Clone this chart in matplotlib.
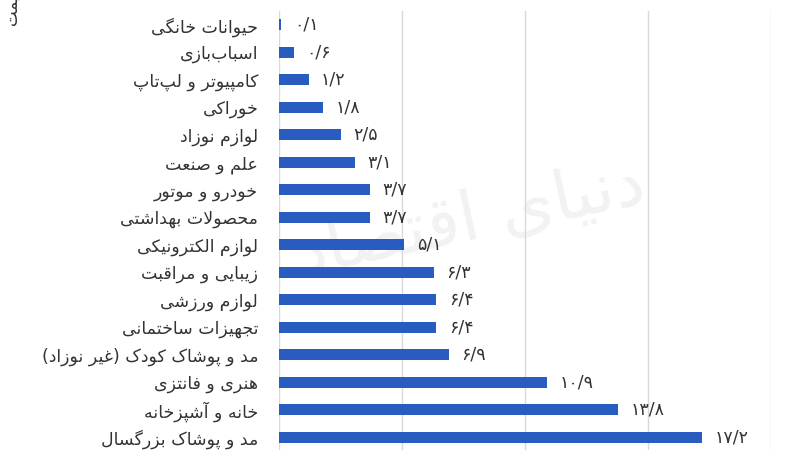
import matplotlib
matplotlib.use("Agg")
import matplotlib.pyplot as plt

categories = [
    "حیوانات خانگی",
    "اسباب\u200cبازی",
    "کامپیوتر و لپ\u200cتاپ",
    "خوراکی",
    "لوازم نوزاد",
    "علم و صنعت",
    "خودرو و موتور",
    "محصولات بهداشتی",
    "لوازم الکترونیکی",
    "زیبایی و مراقبت",
    "لوازم ورزشی",
    "تجهیزات ساختمانی",
    "مد و پوشاک کودک (غیر نوزاد)",
    "هنری و فانتزی",
    "خانه و آشپزخانه",
    "مد و پوشاک بزرگسال",
]
values = [0.1, 0.6, 1.2, 1.8, 2.5, 3.1, 3.7, 3.7, 5.1, 6.3, 6.4, 6.4, 6.9, 10.9, 13.8, 17.2]
xticks = [0, 5, 10, 15, 20]
ylabel_text = "قیمت"
watermark_text = "دنیای اقتصاد"

# ---- minimal Persian shaping (presentation forms) + visual reordering ----
FORMS = {
    '\u0627': ('\uFE8D', '\uFE8E', None, None),
    '\u0622': ('\uFE81', '\uFE82', None, None),
    '\u0628': ('\uFE8F', '\uFE90', '\uFE91', '\uFE92'),
    '\u067E': ('\uFB56', '\uFB57', '\uFB58', '\uFB59'),
    '\u062A': ('\uFE95', '\uFE96', '\uFE97', '\uFE98'),
    '\u062C': ('\uFE9D', '\uFE9E', '\uFE9F', '\uFEA0'),
    '\u062D': ('\uFEA1', '\uFEA2', '\uFEA3', '\uFEA4'),
    '\u062E': ('\uFEA5', '\uFEA6', '\uFEA7', '\uFEA8'),
    '\u062F': ('\uFEA9', '\uFEAA', None, None),
    '\u0631': ('\uFEAD', '\uFEAE', None, None),
    '\u0632': ('\uFEAF', '\uFEB0', None, None),
    '\u0698': ('\uFB8A', '\uFB8B', None, None),
    '\u0633': ('\uFEB1', '\uFEB2', '\uFEB3', '\uFEB4'),
    '\u0634': ('\uFEB5', '\uFEB6', '\uFEB7', '\uFEB8'),
    '\u0635': ('\uFEB9', '\uFEBA', '\uFEBB', '\uFEBC'),
    '\u0639': ('\uFEC9', '\uFECA', '\uFECB', '\uFECC'),
    '\u063A': ('\uFECD', '\uFECE', '\uFECF', '\uFED0'),
    '\u0641': ('\uFED1', '\uFED2', '\uFED3', '\uFED4'),
    '\u0642': ('\uFED5', '\uFED6', '\uFED7', '\uFED8'),
    '\u06A9': ('\uFB8E', '\uFB8F', '\uFB90', '\uFB91'),
    '\u06AF': ('\uFB92', '\uFB93', '\uFB94', '\uFB95'),
    '\u0644': ('\uFEDD', '\uFEDE', '\uFEDF', '\uFEE0'),
    '\u0645': ('\uFEE1', '\uFEE2', '\uFEE3', '\uFEE4'),
    '\u0646': ('\uFEE5', '\uFEE6', '\uFEE7', '\uFEE8'),
    '\u0647': ('\uFEE9', '\uFEEA', '\uFEEB', '\uFEEC'),
    '\u0648': ('\uFEED', '\uFEEE', None, None),
    '\u06CC': ('\uFBFC', '\uFBFD', '\uFBFE', '\uFBFF'),
}
LAM_ALEF = {'\u0627': ('\uFEFB', '\uFEFC'), '\u0622': ('\uFEF5', '\uFEF6')}
MIRROR = {'(': ')', ')': '('}


def dual(c):
    return c in FORMS and FORMS[c][2] is not None


def joins(c):
    return c in FORMS


def shape(text):
    chars = list(text)
    out = []
    i = 0
    n = len(chars)
    while i < n:
        c = chars[i]
        prev = chars[i - 1] if i > 0 else ''
        jp = joins(c) and dual(prev)
        if c == '\u0644' and i + 1 < n and chars[i + 1] in LAM_ALEF:
            out.append(LAM_ALEF[chars[i + 1]][1 if jp else 0])
            i += 2
            continue
        if c not in FORMS:
            if c != '\u200c':
                out.append(MIRROR.get(c, c))
            i += 1
            continue
        nxt = chars[i + 1] if i + 1 < n else ''
        jn = dual(c) and joins(nxt)
        f = FORMS[c]
        if jp and jn:
            g = f[3]
        elif jp:
            g = f[1]
        elif jn:
            g = f[2]
        else:
            g = f[0]
        out.append(g)
        i += 1
    return ''.join(reversed(out))


PERSIAN_DIGITS = str.maketrans('0123456789.', '۰۱۲۳۴۵۶۷۸۹/')


def fa_num(v):
    return f"{v:.1f}".translate(PERSIAN_DIGITS)


W, H = 800, 450
fig = plt.figure(figsize=(W / 100, H / 100), dpi=100)
left, right = 279 / W, 771 / W
top, bottom = 1 - 11 / H, -1 / H
ax = fig.add_axes([left, bottom, right - left, top - bottom], zorder=1)
ax.patch.set_alpha(0)

# faint watermark, behind the plot
fig.text(470 / W, 1 - 220 / H, shape(watermark_text), rotation=12, ha='center',
         va='center', fontsize=50, color='#f2f2f2', family=['DejaVu Sans'],
         zorder=0)

bar_color = '#295CC0'
text_color = '#333333'
ypos = list(range(len(categories)))
ax.barh(ypos, values, height=0.41, color=bar_color, zorder=3)

ax.set_xlim(xticks[0], xticks[-1])
ax.set_ylim(len(categories) - 0.5, -0.5)
ax.set_xticks(xticks)
ax.set_xticklabels([])
ax.set_yticks(ypos)
ax.set_yticklabels([shape(c) for c in categories], fontsize=12.5,
                   color=text_color, family=['DejaVu Sans'])
ax.tick_params(axis='y', length=0, pad=15)
ax.tick_params(axis='x', length=0)
ax.grid(axis='x', color='#d9d9d9', linewidth=1, zorder=0)
ax.set_axisbelow(True)
for s in ax.spines.values():
    s.set_visible(False)

for y, v in zip(ypos, values):
    ax.annotate(fa_num(v), xy=(v, y), xytext=(9, 0), textcoords='offset points',
                ha='left', va='center', fontsize=12.5, color=text_color,
                family=['DejaVu Sans'])

fig.text(12 / W, 1 - 25 / H, shape(ylabel_text), rotation=90, ha='center',
         va='bottom', fontsize=12, color=text_color, family=['DejaVu Sans'])

fig.savefig('out.png', dpi=100)
